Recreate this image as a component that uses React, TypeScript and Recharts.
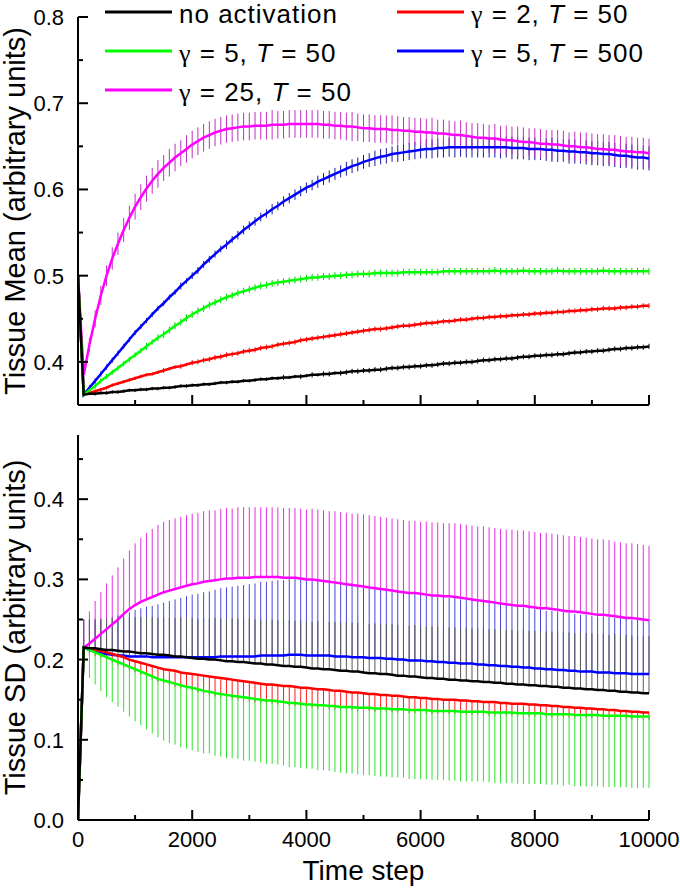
import React from "react";
import { ComposedChart, Line, XAxis, YAxis, ErrorBar, Legend } from "recharts";

const FONT = '"Liberation Sans", Arial, Helvetica, sans-serif';

// time steps, every 100
const TIME_STEPS = [
  0, 100, 200, 300, 400, 500, 600, 700, 800, 900, 1000,
  1100, 1200, 1300, 1400, 1500, 1600, 1700, 1800, 1900, 2000,
  2100, 2200, 2300, 2400, 2500, 2600, 2700, 2800, 2900, 3000,
  3100, 3200, 3300, 3400, 3500, 3600, 3700, 3800, 3900, 4000,
  4100, 4200, 4300, 4400, 4500, 4600, 4700, 4800, 4900, 5000,
  5100, 5200, 5300, 5400, 5500, 5600, 5700, 5800, 5900, 6000,
  6100, 6200, 6300, 6400, 6500, 6600, 6700, 6800, 6900, 7000,
  7100, 7200, 7300, 7400, 7500, 7600, 7700, 7800, 7900, 8000,
  8100, 8200, 8300, 8400, 8500, 8600, 8700, 8800, 8900, 9000,
  9100, 9200, 9300, 9400, 9500, 9600, 9700, 9800, 9900, 10000,
];

// ---- tissue mean ----
const MEAN_NO_ACT = [
  0.500, 0.362, 0.363, 0.363, 0.364, 0.364, 0.365, 0.365, 0.366, 0.367, 0.367,
  0.368, 0.368, 0.369, 0.369, 0.370, 0.370, 0.371, 0.372, 0.372, 0.373,
  0.373, 0.374, 0.374, 0.375, 0.376, 0.376, 0.377, 0.377, 0.378, 0.378,
  0.379, 0.380, 0.380, 0.381, 0.381, 0.382, 0.382, 0.383, 0.383, 0.384,
  0.385, 0.385, 0.386, 0.386, 0.387, 0.387, 0.388, 0.389, 0.389, 0.390,
  0.390, 0.391, 0.391, 0.392, 0.393, 0.393, 0.394, 0.394, 0.395, 0.395,
  0.396, 0.396, 0.397, 0.398, 0.398, 0.399, 0.399, 0.400, 0.400, 0.401,
  0.402, 0.402, 0.403, 0.403, 0.404, 0.404, 0.405, 0.406, 0.406, 0.407,
  0.407, 0.408, 0.408, 0.409, 0.409, 0.410, 0.411, 0.411, 0.412, 0.412,
  0.413, 0.413, 0.414, 0.415, 0.415, 0.416, 0.416, 0.417, 0.417, 0.418,
];
const MEAN_ERR_NO_ACT = [
  0.000, 0.001, 0.001, 0.002, 0.002, 0.002, 0.002, 0.002, 0.002, 0.002, 0.002,
  0.002, 0.002, 0.002, 0.002, 0.002, 0.002, 0.002, 0.002, 0.002, 0.002,
  0.002, 0.002, 0.002, 0.002, 0.002, 0.002, 0.002, 0.002, 0.002, 0.002,
  0.002, 0.002, 0.002, 0.002, 0.002, 0.003, 0.002, 0.002, 0.003, 0.002,
  0.003, 0.002, 0.003, 0.003, 0.002, 0.003, 0.003, 0.003, 0.003, 0.003,
  0.003, 0.003, 0.003, 0.003, 0.003, 0.003, 0.003, 0.003, 0.003, 0.003,
  0.003, 0.003, 0.003, 0.003, 0.003, 0.003, 0.003, 0.003, 0.003, 0.003,
  0.003, 0.003, 0.003, 0.003, 0.003, 0.003, 0.003, 0.003, 0.003, 0.003,
  0.003, 0.003, 0.003, 0.003, 0.003, 0.003, 0.003, 0.003, 0.003, 0.003,
  0.003, 0.003, 0.003, 0.003, 0.003, 0.003, 0.003, 0.003, 0.003, 0.003,
];

const MEAN_G2_T50 = [
  0.500, 0.362, 0.364, 0.366, 0.368, 0.370, 0.373, 0.375, 0.377, 0.379, 0.381,
  0.383, 0.385, 0.386, 0.388, 0.390, 0.392, 0.394, 0.395, 0.397, 0.399,
  0.400, 0.402, 0.403, 0.405, 0.406, 0.408, 0.409, 0.410, 0.412, 0.413,
  0.414, 0.416, 0.417, 0.418, 0.420, 0.421, 0.422, 0.423, 0.425, 0.426,
  0.427, 0.428, 0.429, 0.430, 0.431, 0.432, 0.433, 0.434, 0.435, 0.436,
  0.437, 0.438, 0.438, 0.439, 0.440, 0.441, 0.442, 0.442, 0.443, 0.444,
  0.445, 0.445, 0.446, 0.447, 0.447, 0.448, 0.449, 0.449, 0.450, 0.451,
  0.451, 0.452, 0.452, 0.453, 0.453, 0.454, 0.454, 0.455, 0.455, 0.456,
  0.456, 0.457, 0.457, 0.458, 0.458, 0.459, 0.459, 0.460, 0.460, 0.461,
  0.461, 0.462, 0.462, 0.462, 0.463, 0.463, 0.464, 0.464, 0.465, 0.465,
];
const MEAN_ERR_G2_T50 = [
  0.000, 0.001, 0.002, 0.002, 0.002, 0.002, 0.002, 0.002, 0.002, 0.002, 0.002,
  0.002, 0.002, 0.002, 0.002, 0.003, 0.002, 0.002, 0.003, 0.002, 0.003,
  0.003, 0.003, 0.003, 0.003, 0.003, 0.003, 0.003, 0.003, 0.003, 0.003,
  0.003, 0.003, 0.003, 0.003, 0.003, 0.003, 0.003, 0.003, 0.003, 0.003,
  0.003, 0.003, 0.003, 0.003, 0.003, 0.003, 0.003, 0.003, 0.003, 0.003,
  0.003, 0.003, 0.003, 0.003, 0.003, 0.003, 0.003, 0.003, 0.003, 0.003,
  0.003, 0.003, 0.003, 0.003, 0.003, 0.003, 0.003, 0.003, 0.003, 0.003,
  0.003, 0.003, 0.003, 0.003, 0.003, 0.003, 0.003, 0.003, 0.003, 0.003,
  0.003, 0.003, 0.003, 0.003, 0.003, 0.003, 0.003, 0.003, 0.003, 0.003,
  0.003, 0.003, 0.003, 0.003, 0.003, 0.003, 0.003, 0.003, 0.003, 0.003,
];

const MEAN_G5_T50 = [
  0.500, 0.362, 0.367, 0.372, 0.378, 0.383, 0.388, 0.393, 0.398, 0.403, 0.408,
  0.413, 0.418, 0.423, 0.428, 0.432, 0.437, 0.442, 0.446, 0.451, 0.455,
  0.459, 0.462, 0.466, 0.469, 0.472, 0.475, 0.477, 0.480, 0.482, 0.484,
  0.486, 0.488, 0.489, 0.491, 0.492, 0.493, 0.494, 0.495, 0.496, 0.497,
  0.498, 0.498, 0.499, 0.499, 0.500, 0.500, 0.501, 0.501, 0.502, 0.502,
  0.502, 0.503, 0.503, 0.503, 0.503, 0.503, 0.504, 0.504, 0.504, 0.504,
  0.504, 0.504, 0.504, 0.505, 0.505, 0.505, 0.505, 0.505, 0.505, 0.505,
  0.505, 0.505, 0.506, 0.505, 0.505, 0.505, 0.505, 0.506, 0.505, 0.505,
  0.505, 0.505, 0.505, 0.506, 0.505, 0.505, 0.505, 0.505, 0.505, 0.505,
  0.505, 0.506, 0.505, 0.505, 0.505, 0.505, 0.505, 0.505, 0.505, 0.505,
];
const MEAN_ERR_G5_T50 = [
  0.000, 0.002, 0.003, 0.003, 0.003, 0.003, 0.003, 0.003, 0.003, 0.003, 0.003,
  0.003, 0.004, 0.003, 0.004, 0.004, 0.004, 0.004, 0.004, 0.004, 0.004,
  0.004, 0.004, 0.004, 0.004, 0.004, 0.004, 0.004, 0.004, 0.004, 0.004,
  0.004, 0.004, 0.004, 0.004, 0.004, 0.004, 0.004, 0.004, 0.004, 0.004,
  0.004, 0.004, 0.004, 0.004, 0.004, 0.004, 0.004, 0.004, 0.004, 0.004,
  0.004, 0.004, 0.004, 0.004, 0.004, 0.004, 0.004, 0.004, 0.004, 0.004,
  0.004, 0.004, 0.004, 0.004, 0.004, 0.004, 0.004, 0.004, 0.004, 0.004,
  0.004, 0.004, 0.004, 0.004, 0.004, 0.004, 0.004, 0.004, 0.004, 0.004,
  0.004, 0.004, 0.004, 0.004, 0.004, 0.004, 0.004, 0.004, 0.004, 0.004,
  0.004, 0.004, 0.004, 0.004, 0.004, 0.004, 0.004, 0.004, 0.004, 0.004,
];

const MEAN_G5_T500 = [
  0.500, 0.362, 0.370, 0.378, 0.386, 0.394, 0.402, 0.410, 0.418, 0.426, 0.434,
  0.441, 0.448, 0.455, 0.462, 0.468, 0.475, 0.481, 0.488, 0.494, 0.500,
  0.506, 0.513, 0.519, 0.525, 0.531, 0.536, 0.542, 0.547, 0.553, 0.558,
  0.563, 0.568, 0.572, 0.577, 0.581, 0.586, 0.590, 0.594, 0.598, 0.602,
  0.605, 0.609, 0.612, 0.615, 0.618, 0.621, 0.624, 0.627, 0.629, 0.632,
  0.634, 0.636, 0.638, 0.639, 0.641, 0.642, 0.643, 0.644, 0.645, 0.646,
  0.647, 0.647, 0.648, 0.648, 0.649, 0.649, 0.649, 0.649, 0.649, 0.649,
  0.649, 0.649, 0.649, 0.649, 0.649, 0.648, 0.648, 0.648, 0.647, 0.647,
  0.647, 0.646, 0.646, 0.645, 0.645, 0.644, 0.644, 0.643, 0.643, 0.642,
  0.642, 0.641, 0.641, 0.640, 0.639, 0.639, 0.638, 0.637, 0.637, 0.636,
];
const MEAN_ERR_G5_T500 = [
  0.000, 0.002, 0.003, 0.003, 0.003, 0.003, 0.003, 0.003, 0.003, 0.003, 0.003,
  0.003, 0.003, 0.003, 0.003, 0.003, 0.003, 0.003, 0.004, 0.003, 0.004,
  0.004, 0.004, 0.004, 0.004, 0.004, 0.005, 0.004, 0.005, 0.005, 0.005,
  0.005, 0.005, 0.005, 0.006, 0.005, 0.006, 0.006, 0.006, 0.006, 0.006,
  0.006, 0.007, 0.007, 0.007, 0.007, 0.007, 0.008, 0.008, 0.008, 0.008,
  0.008, 0.009, 0.009, 0.009, 0.009, 0.010, 0.010, 0.010, 0.010, 0.010,
  0.011, 0.011, 0.011, 0.011, 0.011, 0.012, 0.011, 0.012, 0.012, 0.012,
  0.012, 0.012, 0.012, 0.013, 0.012, 0.013, 0.013, 0.013, 0.013, 0.013,
  0.013, 0.013, 0.014, 0.013, 0.013, 0.014, 0.014, 0.013, 0.014, 0.014,
  0.014, 0.014, 0.014, 0.014, 0.014, 0.014, 0.014, 0.014, 0.014, 0.014,
];

const MEAN_G25_T50 = [
  0.500, 0.385, 0.420, 0.450, 0.477, 0.500, 0.520, 0.537, 0.553, 0.567, 0.580,
  0.591, 0.601, 0.610, 0.618, 0.625, 0.631, 0.637, 0.642, 0.647, 0.652,
  0.656, 0.660, 0.663, 0.666, 0.668, 0.670, 0.671, 0.672, 0.673, 0.673,
  0.674, 0.674, 0.674, 0.675, 0.675, 0.675, 0.676, 0.676, 0.676, 0.676,
  0.676, 0.676, 0.675, 0.675, 0.674, 0.674, 0.673, 0.673, 0.672, 0.671,
  0.671, 0.670, 0.670, 0.670, 0.669, 0.669, 0.668, 0.668, 0.667, 0.667,
  0.666, 0.666, 0.665, 0.665, 0.664, 0.663, 0.663, 0.662, 0.661, 0.660,
  0.660, 0.659, 0.659, 0.658, 0.657, 0.657, 0.656, 0.655, 0.655, 0.654,
  0.653, 0.653, 0.652, 0.652, 0.651, 0.650, 0.650, 0.649, 0.649, 0.648,
  0.647, 0.647, 0.646, 0.646, 0.645, 0.644, 0.644, 0.643, 0.643, 0.642,
];
const MEAN_ERR_G25_T50 = [
  0.000, 0.006, 0.008, 0.010, 0.011, 0.012, 0.013, 0.013, 0.014, 0.014, 0.015,
  0.015, 0.015, 0.015, 0.016, 0.015, 0.016, 0.016, 0.015, 0.016, 0.016,
  0.016, 0.016, 0.016, 0.016, 0.016, 0.016, 0.016, 0.016, 0.016, 0.016,
  0.016, 0.016, 0.016, 0.017, 0.016, 0.016, 0.016, 0.016, 0.016, 0.016,
  0.016, 0.016, 0.016, 0.016, 0.016, 0.016, 0.016, 0.017, 0.016, 0.016,
  0.016, 0.016, 0.016, 0.016, 0.017, 0.016, 0.016, 0.016, 0.016, 0.016,
  0.016, 0.017, 0.016, 0.016, 0.016, 0.016, 0.017, 0.016, 0.016, 0.017,
  0.016, 0.016, 0.017, 0.016, 0.017, 0.016, 0.017, 0.017, 0.016, 0.017,
  0.017, 0.016, 0.017, 0.017, 0.017, 0.016, 0.017, 0.017, 0.017, 0.017,
  0.017, 0.017, 0.017, 0.017, 0.017, 0.017, 0.017, 0.017, 0.017, 0.017,
];

// ---- tissue SD ----
const SD_NO_ACT = [
  0.000, 0.215, 0.214, 0.214, 0.213, 0.212, 0.212, 0.211, 0.210, 0.210, 0.209,
  0.208, 0.208, 0.207, 0.206, 0.206, 0.205, 0.204, 0.204, 0.203, 0.202,
  0.201, 0.201, 0.200, 0.200, 0.199, 0.198, 0.198, 0.197, 0.197, 0.196,
  0.195, 0.195, 0.194, 0.194, 0.193, 0.192, 0.192, 0.191, 0.191, 0.190,
  0.189, 0.189, 0.188, 0.188, 0.187, 0.186, 0.186, 0.185, 0.185, 0.184,
  0.183, 0.183, 0.182, 0.182, 0.181, 0.180, 0.180, 0.179, 0.179, 0.178,
  0.177, 0.177, 0.176, 0.176, 0.175, 0.175, 0.174, 0.174, 0.173, 0.173,
  0.172, 0.172, 0.171, 0.171, 0.170, 0.170, 0.169, 0.169, 0.168, 0.168,
  0.167, 0.167, 0.166, 0.166, 0.165, 0.165, 0.164, 0.164, 0.163, 0.163,
  0.162, 0.162, 0.161, 0.161, 0.160, 0.160, 0.159, 0.159, 0.158, 0.158,
];
const SD_ERR_NO_ACT = [
  0.000, 0.035, 0.036, 0.037, 0.038, 0.039, 0.040, 0.041, 0.042, 0.043, 0.044,
  0.045, 0.045, 0.046, 0.046, 0.047, 0.047, 0.048, 0.049, 0.049, 0.050,
  0.050, 0.051, 0.051, 0.052, 0.052, 0.053, 0.053, 0.054, 0.054, 0.055,
  0.055, 0.055, 0.056, 0.056, 0.056, 0.057, 0.057, 0.057, 0.058, 0.058,
  0.058, 0.059, 0.059, 0.059, 0.060, 0.060, 0.060, 0.061, 0.061, 0.061,
  0.061, 0.062, 0.062, 0.062, 0.063, 0.063, 0.063, 0.063, 0.064, 0.064,
  0.064, 0.064, 0.065, 0.065, 0.065, 0.065, 0.065, 0.066, 0.066, 0.066,
  0.066, 0.066, 0.067, 0.067, 0.067, 0.067, 0.067, 0.068, 0.068, 0.068,
  0.068, 0.068, 0.069, 0.069, 0.069, 0.069, 0.069, 0.070, 0.070, 0.070,
  0.070, 0.070, 0.070, 0.071, 0.071, 0.071, 0.071, 0.071, 0.071, 0.071,
];

const SD_G2_T50 = [
  0.000, 0.215, 0.214, 0.212, 0.211, 0.209, 0.207, 0.205, 0.203, 0.200, 0.198,
  0.196, 0.194, 0.192, 0.190, 0.188, 0.187, 0.186, 0.184, 0.183, 0.182,
  0.181, 0.180, 0.179, 0.178, 0.177, 0.176, 0.175, 0.174, 0.173, 0.172,
  0.171, 0.170, 0.169, 0.169, 0.168, 0.167, 0.167, 0.166, 0.165, 0.165,
  0.164, 0.163, 0.163, 0.162, 0.161, 0.161, 0.160, 0.159, 0.159, 0.158,
  0.157, 0.157, 0.156, 0.156, 0.155, 0.155, 0.154, 0.153, 0.153, 0.152,
  0.152, 0.151, 0.151, 0.150, 0.150, 0.150, 0.149, 0.149, 0.148, 0.148,
  0.147, 0.147, 0.147, 0.146, 0.146, 0.145, 0.145, 0.145, 0.144, 0.144,
  0.143, 0.143, 0.142, 0.142, 0.141, 0.141, 0.140, 0.140, 0.139, 0.139,
  0.138, 0.138, 0.137, 0.137, 0.136, 0.136, 0.135, 0.135, 0.134, 0.134,
];
// red bars: visible part, from the red line down to the green line
const SD_ERR_G2_T50 = [
  0.000, 0.008, 0.008, 0.008, 0.009, 0.010, 0.011, 0.012, 0.013, 0.013, 0.014,
  0.015, 0.016, 0.017, 0.018, 0.018, 0.019, 0.020, 0.020, 0.021, 0.021,
  0.022, 0.023, 0.023, 0.024, 0.024, 0.024, 0.024, 0.024, 0.024, 0.024,
  0.024, 0.024, 0.024, 0.024, 0.024, 0.024, 0.025, 0.024, 0.024, 0.025,
  0.024, 0.024, 0.024, 0.024, 0.023, 0.024, 0.023, 0.022, 0.023, 0.022,
  0.021, 0.022, 0.021, 0.021, 0.021, 0.021, 0.020, 0.020, 0.020, 0.019,
  0.019, 0.019, 0.019, 0.018, 0.018, 0.018, 0.018, 0.018, 0.017, 0.017,
  0.016, 0.017, 0.017, 0.016, 0.016, 0.015, 0.016, 0.016, 0.015, 0.015,
  0.014, 0.015, 0.014, 0.014, 0.013, 0.013, 0.013, 0.013, 0.012, 0.012,
  0.011, 0.012, 0.011, 0.011, 0.010, 0.010, 0.010, 0.010, 0.009, 0.009,
];

const SD_G5_T50 = [
  0.000, 0.215, 0.212, 0.209, 0.206, 0.203, 0.200, 0.197, 0.194, 0.191, 0.188,
  0.185, 0.182, 0.179, 0.176, 0.174, 0.172, 0.170, 0.168, 0.166, 0.165,
  0.163, 0.161, 0.160, 0.158, 0.157, 0.156, 0.155, 0.154, 0.153, 0.152,
  0.151, 0.150, 0.149, 0.149, 0.148, 0.147, 0.146, 0.146, 0.145, 0.144,
  0.144, 0.143, 0.143, 0.142, 0.142, 0.141, 0.141, 0.141, 0.140, 0.140,
  0.140, 0.139, 0.139, 0.139, 0.138, 0.138, 0.138, 0.137, 0.137, 0.137,
  0.137, 0.136, 0.136, 0.136, 0.136, 0.136, 0.135, 0.135, 0.135, 0.135,
  0.135, 0.134, 0.134, 0.134, 0.134, 0.134, 0.133, 0.133, 0.133, 0.133,
  0.133, 0.132, 0.132, 0.132, 0.132, 0.132, 0.131, 0.131, 0.131, 0.131,
  0.131, 0.130, 0.130, 0.130, 0.130, 0.130, 0.129, 0.129, 0.129, 0.129,
];
const SD_ERR_G5_T50 = [
  0.000, 0.030, 0.035, 0.040, 0.045, 0.050, 0.053, 0.056, 0.059, 0.062, 0.065,
  0.067, 0.069, 0.071, 0.073, 0.075, 0.076, 0.076, 0.077, 0.077, 0.078,
  0.078, 0.078, 0.077, 0.078, 0.078, 0.079, 0.078, 0.078, 0.079, 0.078,
  0.078, 0.078, 0.079, 0.079, 0.079, 0.079, 0.080, 0.080, 0.080, 0.080,
  0.080, 0.081, 0.081, 0.081, 0.082, 0.082, 0.083, 0.083, 0.083, 0.084,
  0.084, 0.084, 0.085, 0.085, 0.085, 0.085, 0.085, 0.086, 0.086, 0.086,
  0.086, 0.086, 0.086, 0.086, 0.087, 0.087, 0.087, 0.087, 0.087, 0.087,
  0.087, 0.087, 0.088, 0.088, 0.088, 0.088, 0.088, 0.088, 0.088, 0.088,
  0.088, 0.088, 0.088, 0.088, 0.089, 0.088, 0.089, 0.089, 0.089, 0.089,
  0.089, 0.089, 0.089, 0.089, 0.089, 0.089, 0.089, 0.089, 0.089, 0.089,
];

const SD_G5_T500 = [
  0.000, 0.215, 0.212, 0.210, 0.208, 0.207, 0.206, 0.205, 0.205, 0.204, 0.204,
  0.204, 0.204, 0.203, 0.203, 0.203, 0.203, 0.203, 0.203, 0.203, 0.203,
  0.203, 0.203, 0.203, 0.203, 0.204, 0.204, 0.204, 0.204, 0.204, 0.204,
  0.204, 0.205, 0.205, 0.205, 0.205, 0.205, 0.206, 0.206, 0.206, 0.205,
  0.205, 0.205, 0.205, 0.205, 0.204, 0.204, 0.204, 0.203, 0.203, 0.203,
  0.202, 0.202, 0.202, 0.201, 0.201, 0.200, 0.200, 0.199, 0.199, 0.199,
  0.198, 0.198, 0.197, 0.197, 0.196, 0.196, 0.195, 0.195, 0.195, 0.194,
  0.194, 0.193, 0.193, 0.192, 0.192, 0.191, 0.191, 0.190, 0.190, 0.189,
  0.189, 0.188, 0.188, 0.187, 0.187, 0.186, 0.186, 0.185, 0.185, 0.185,
  0.184, 0.184, 0.184, 0.183, 0.183, 0.183, 0.182, 0.182, 0.182, 0.182,
];
const SD_ERR_G5_T500 = [
  0.000, 0.035, 0.037, 0.039, 0.042, 0.045, 0.047, 0.050, 0.053, 0.055, 0.058,
  0.060, 0.062, 0.064, 0.066, 0.068, 0.070, 0.072, 0.074, 0.076, 0.078,
  0.079, 0.081, 0.082, 0.084, 0.085, 0.086, 0.087, 0.088, 0.089, 0.090,
  0.091, 0.092, 0.092, 0.093, 0.094, 0.094, 0.095, 0.095, 0.095, 0.095,
  0.095, 0.094, 0.094, 0.094, 0.093, 0.093, 0.092, 0.092, 0.091, 0.090,
  0.090, 0.089, 0.088, 0.088, 0.087, 0.086, 0.086, 0.085, 0.084, 0.083,
  0.083, 0.082, 0.082, 0.082, 0.081, 0.081, 0.080, 0.080, 0.080, 0.079,
  0.079, 0.078, 0.078, 0.077, 0.077, 0.076, 0.076, 0.075, 0.075, 0.074,
  0.074, 0.073, 0.073, 0.073, 0.072, 0.072, 0.071, 0.071, 0.071, 0.070,
  0.070, 0.070, 0.069, 0.069, 0.069, 0.068, 0.068, 0.068, 0.067, 0.067,
];

const SD_G25_T50 = [
  0.000, 0.215, 0.220, 0.226, 0.232, 0.238, 0.244, 0.250, 0.257, 0.263, 0.268,
  0.272, 0.275, 0.278, 0.281, 0.284, 0.286, 0.288, 0.290, 0.292, 0.294,
  0.295, 0.297, 0.298, 0.299, 0.300, 0.301, 0.301, 0.302, 0.302, 0.302,
  0.303, 0.303, 0.303, 0.303, 0.303, 0.302, 0.302, 0.302, 0.301, 0.300,
  0.300, 0.299, 0.298, 0.297, 0.296, 0.295, 0.294, 0.293, 0.292, 0.291,
  0.290, 0.289, 0.288, 0.287, 0.286, 0.285, 0.284, 0.283, 0.283, 0.282,
  0.281, 0.280, 0.280, 0.279, 0.279, 0.278, 0.277, 0.276, 0.275, 0.274,
  0.273, 0.272, 0.271, 0.270, 0.269, 0.268, 0.267, 0.267, 0.266, 0.265,
  0.264, 0.264, 0.263, 0.262, 0.261, 0.260, 0.260, 0.259, 0.258, 0.257,
  0.256, 0.256, 0.255, 0.254, 0.253, 0.252, 0.252, 0.251, 0.250, 0.249,
];
const SD_ERR_G25_T50 = [
  0.000, 0.035, 0.040, 0.047, 0.052, 0.057, 0.061, 0.065, 0.069, 0.073, 0.077,
  0.080, 0.083, 0.085, 0.087, 0.088, 0.088, 0.088, 0.088, 0.088, 0.088,
  0.088, 0.088, 0.088, 0.087, 0.088, 0.088, 0.087, 0.088, 0.088, 0.088,
  0.087, 0.087, 0.087, 0.087, 0.087, 0.087, 0.087, 0.087, 0.087, 0.087,
  0.088, 0.088, 0.088, 0.088, 0.089, 0.089, 0.089, 0.089, 0.090, 0.090,
  0.090, 0.090, 0.090, 0.090, 0.090, 0.090, 0.090, 0.090, 0.090, 0.090,
  0.091, 0.091, 0.091, 0.091, 0.091, 0.092, 0.092, 0.092, 0.092, 0.092,
  0.093, 0.093, 0.093, 0.093, 0.093, 0.094, 0.094, 0.094, 0.094, 0.094,
  0.094, 0.094, 0.094, 0.094, 0.094, 0.094, 0.094, 0.094, 0.094, 0.094,
  0.094, 0.094, 0.094, 0.093, 0.093, 0.093, 0.093, 0.093, 0.093, 0.093,
];

// axis ticks
const X_TICKS = [0, 1000, 2000, 3000, 4000, 5000, 6000, 7000, 8000, 9000, 10000];
const MEAN_TICKS = [0.4, 0.45, 0.5, 0.55, 0.6, 0.65, 0.7, 0.75, 0.8];
const SD_TICKS = [0, 0.05, 0.1, 0.15, 0.2, 0.25, 0.3, 0.35, 0.4, 0.45];

// series, in legend order; sdDir: which side the SD error bar is drawn
const SERIES = [
  { key: "noAct", gamma: null, T: null, label: "no activation", mean: MEAN_NO_ACT, meanErr: MEAN_ERR_NO_ACT, sd: SD_NO_ACT, sdErr: SD_ERR_NO_ACT, sdDir: "up" },
  { key: "g2t50", gamma: "2", T: "50", label: "", mean: MEAN_G2_T50, meanErr: MEAN_ERR_G2_T50, sd: SD_G2_T50, sdErr: SD_ERR_G2_T50, sdDir: "down" },
  { key: "g5t50", gamma: "5", T: "50", label: "", mean: MEAN_G5_T50, meanErr: MEAN_ERR_G5_T50, sd: SD_G5_T50, sdErr: SD_ERR_G5_T50, sdDir: "down" },
  { key: "g5t500", gamma: "5", T: "500", label: "", mean: MEAN_G5_T500, meanErr: MEAN_ERR_G5_T500, sd: SD_G5_T500, sdErr: SD_ERR_G5_T500, sdDir: "up" },
  { key: "g25t50", gamma: "25", T: "50", label: "", mean: MEAN_G25_T50, meanErr: MEAN_ERR_G25_T50, sd: SD_G25_T50, sdErr: SD_ERR_G25_T50, sdDir: "up" },
];

// colours: line, error bars in the mean panel, error bars in the SD panel
const COLORS: Record<string, { line: string; meanBar: string; sdBar: string }> = {
  noAct: { line: "#000000", meanBar: "#000000", sdBar: "#5a5a5a" },
  g2t50: { line: "#ff0000", meanBar: "#ff0000", sdBar: "#ff1a1a" },
  g5t50: { line: "#00ff00", meanBar: "#00d000", sdBar: "#30e030" },
  g5t500: { line: "#0000ff", meanBar: "#1a1aa0", sdBar: "#4545d8" },
  g25t50: { line: "#ff00ff", meanBar: "#c030c0", sdBar: "#e030e0" },
};

const MEAN_BAR_ORDER = ["noAct", "g2t50", "g5t50", "g5t500", "g25t50"];
const SD_BAR_ORDER = ["g2t50", "g5t50", "g5t500", "g25t50", "noAct"];
const LINE_ORDER = ["g5t500", "g25t50", "g2t50", "g5t50", "noAct"];

const meanRows = TIME_STEPS.map((t, i) => {
  const row: any = { t };
  SERIES.forEach((s) => {
    row[s.key] = s.mean[i];
    row[s.key + "E"] = s.meanErr[i];
  });
  return row;
});

const sdRows = TIME_STEPS.map((t, i) => {
  const row: any = { t };
  SERIES.forEach((s) => {
    row[s.key] = s.sd[i];
    row[s.key + "E"] = s.sdDir === "up" ? [0, s.sdErr[i]] : [s.sdErr[i], 0];
  });
  return row;
});

function YTick(props: any) {
  const { x, y, payload } = props;
  const v = payload.value;
  const major = Math.abs(v * 10 - Math.round(v * 10)) < 1e-6;
  return (
    <g>
      <line x1={x} y1={y} x2={x + (major ? 10 : 5)} y2={y} stroke="#000" strokeWidth={2} />
      {major && (
        <text x={x - 14} y={y} dy="0.36em" textAnchor="end" fontSize={22} fontFamily={FONT} fill="#000">
          {v.toFixed(1)}
        </text>
      )}
    </g>
  );
}

function XTick(props: any) {
  const { x, y, payload, showLabel } = props;
  const v = payload.value;
  const major = v % 2000 === 0;
  return (
    <g>
      <line x1={x} y1={y} x2={x} y2={y - (major ? 10 : 5)} stroke="#000" strokeWidth={2} />
      {showLabel && major && (
        <text x={x} y={y + 27} textAnchor="middle" fontSize={22} fontFamily={FONT} fill="#000">
          {v}
        </text>
      )}
    </g>
  );
}

function LegendBox() {
  return (
    <svg width={680} height={112} style={{ display: "block" }}>
      {SERIES.map((s, i) => {
        const col = i % 2;
        const row = Math.floor(i / 2);
        const x0 = col === 0 ? 105 : 397;
        const y0 = 12 + row * 39;
        return (
          <g key={s.key}>
            <line x1={x0} y1={y0} x2={x0 + 67} y2={y0} stroke={COLORS[s.key].line} strokeWidth={3} />
            <text x={x0 + 74} y={y0 + 11} fontSize={26} letterSpacing={1} fontFamily={FONT} fill="#000">
              {s.gamma === null ? (
                s.label
              ) : (
                <>
                  <tspan fontFamily='"Liberation Serif", "DejaVu Serif", serif'>γ</tspan>
                  <tspan>{` = ${s.gamma}, `}</tspan>
                  <tspan fontStyle="italic">T</tspan>
                  <tspan>{` = ${s.T}`}</tspan>
                </>
              )}
            </text>
          </g>
        );
      })}
    </svg>
  );
}

function renderBars(order: string[], panel: "meanBar" | "sdBar") {
  return order.map((k) => (
    <Line
      key={"bar-" + k}
      dataKey={k}
      stroke="none"
      dot={false}
      activeDot={false}
      legendType="none"
      isAnimationActive={false}
    >
      <ErrorBar dataKey={k + "E"} width={0} stroke={COLORS[k][panel]} strokeWidth={1} direction="y" isAnimationActive={false} />
    </Line>
  ));
}

function renderLines() {
  return LINE_ORDER.map((k) => (
    <Line
      key={"line-" + k}
      type="linear"
      dataKey={k}
      stroke={COLORS[k].line}
      strokeWidth={2.5}
      dot={false}
      activeDot={false}
      legendType="none"
      isAnimationActive={false}
    />
  ));
}

const axisLine = { stroke: "#000", strokeWidth: 2 };

export default function App() {
  return (
    <div style={{ position: "absolute", left: 0, top: 0, width: 680, height: 892, background: "#fff", fontFamily: FONT }}>
      <div style={{ position: "absolute", left: 0, top: 0 }}>
        <ComposedChart width={680} height={425} data={meanRows} margin={{ top: 17, right: 31, bottom: 0, left: 0 }}>
          <XAxis
            dataKey="t"
            type="number"
            domain={[0, 10000]}
            ticks={X_TICKS}
            interval={0}
            allowDataOverflow
            height={20}
            tickSize={0}
            tickMargin={0}
            tickLine={false}
            axisLine={axisLine}
            tick={(p: any) => <XTick {...p} showLabel={false} />}
          />
          <YAxis
            type="number"
            domain={[0.35, 0.8]}
            ticks={MEAN_TICKS}
            interval={0}
            allowDataOverflow
            width={78}
            tickSize={0}
            tickMargin={0}
            tickLine={false}
            axisLine={axisLine}
            tick={(p: any) => <YTick {...p} />}
            label={{ value: "Tissue Mean (arbitrary units)", angle: -90, position: "center", dx: -24, fontSize: 29, fontFamily: FONT, fill: "#000" }}
          />
          <Legend
            layout="horizontal"
            verticalAlign="middle"
            align="center"
            wrapperStyle={{ top: 0, left: 0, width: 680 }}
            content={() => <LegendBox />}
          />
          {renderBars(MEAN_BAR_ORDER, "meanBar")}
          {renderLines()}
        </ComposedChart>
      </div>
      <div style={{ position: "absolute", left: 0, top: 420 }}>
        <ComposedChart width={680} height={472} data={sdRows} margin={{ top: 15, right: 31, bottom: 0, left: 0 }}>
          <XAxis
            dataKey="t"
            type="number"
            domain={[0, 10000]}
            ticks={X_TICKS}
            interval={0}
            allowDataOverflow
            height={72}
            tickSize={0}
            tickMargin={0}
            tickLine={false}
            axisLine={axisLine}
            tick={(p: any) => <XTick {...p} showLabel />}
            label={{ value: "Time step", position: "insideBottom", offset: 12, fontSize: 28, fontFamily: FONT, fill: "#000" }}
          />
          <YAxis
            type="number"
            domain={[0, 0.48]}
            ticks={SD_TICKS}
            interval={0}
            allowDataOverflow
            width={78}
            tickSize={0}
            tickMargin={0}
            tickLine={false}
            axisLine={axisLine}
            tick={(p: any) => <YTick {...p} />}
            label={{ value: "Tissue SD (arbitrary units)", angle: -90, position: "center", dx: -24, fontSize: 29, fontFamily: FONT, fill: "#000" }}
          />
          {renderBars(SD_BAR_ORDER, "sdBar")}
          {renderLines()}
        </ComposedChart>
      </div>
    </div>
  );
}
